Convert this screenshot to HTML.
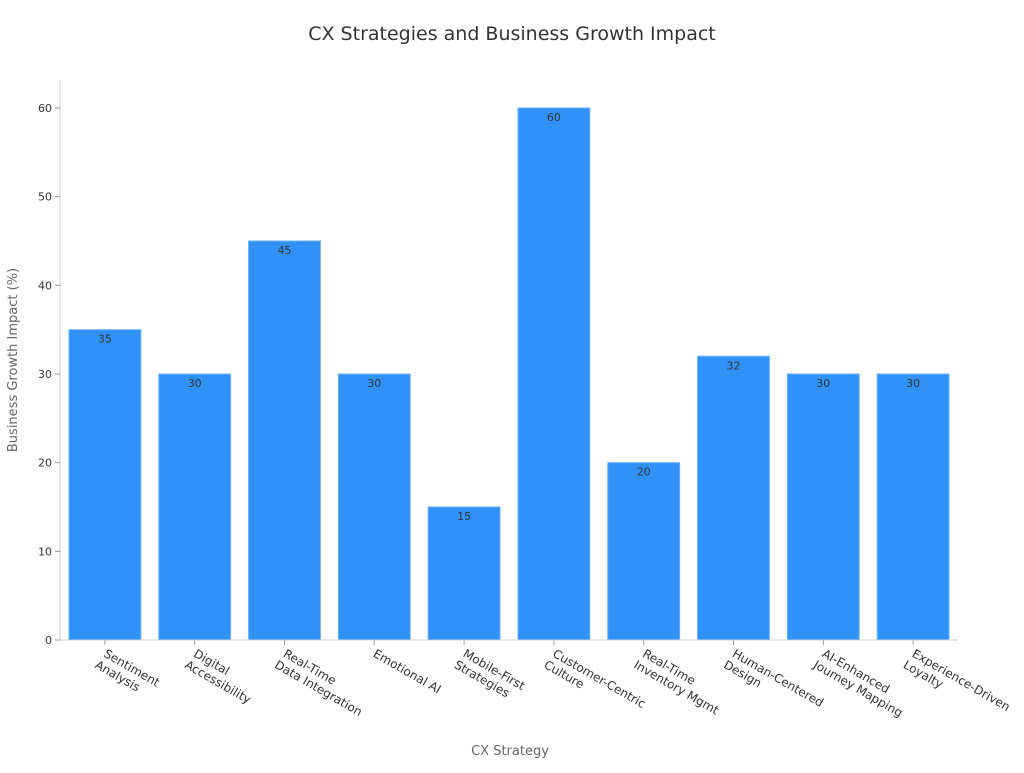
<!DOCTYPE html>
<html><head><meta charset="utf-8"><style>
body{margin:0;background:#fff}
svg{font-family:"DejaVu Sans","Liberation Sans",sans-serif}
</style></head><body>
<svg width="1024" height="768">
<text x="512" y="40" text-anchor="middle" font-size="19" fill="#333">CX Strategies and Business Growth Impact</text>
<g id="plot"></g>
<text transform="translate(17,360) rotate(-90)" text-anchor="middle" font-size="13" fill="#666">Business Growth Impact (%)</text>
<text x="510" y="755" text-anchor="middle" font-size="13" fill="#666">CX Strategy</text>
</svg>
<script>
const categories=[["Sentiment","Analysis"],["Digital","Accessibility"],["Real-Time","Data Integration"],["Emotional AI"],["Mobile-First","Strategies"],["Customer-Centric","Culture"],["Real-Time","Inventory Mgmt"],["Human-Centered","Design"],["AI-Enhanced","Journey Mapping"],["Experience-Driven","Loyalty"]];
const values=[35,30,45,30,15,60,20,32,30,30];
const yTicks=[0,10,20,30,40,50,60];
const NS="http://www.w3.org/2000/svg";
const g=document.getElementById('plot');
const x0=60,x1=958,yTop=80,yBase=640;
const y=v=>yBase-v*(532/60);
const band=(x1-x0)/categories.length;
const xc=i=>x0+band*(i+0.5);
function mk(t,a){const e=document.createElementNS(NS,t);for(const k in a)e.setAttribute(k,a[k]);g.appendChild(e);return e;}
let ax=mk('line',{x1:x0,y1:yTop,x2:x0,y2:yBase,stroke:'#ccc'});


yTicks.forEach(v=>{
 const t=mk('line',{x1:x0-5,x2:x0,y1:y(v),y2:y(v),stroke:'#999'});
 
 
 const l=mk('text',{x:x0-8,y:y(v)+4,'text-anchor':'end','font-size':11,fill:'#333'});
 l.textContent=v;
 
 
});
const bw=band*0.8;
values.forEach((v,i)=>{
 const r=mk('rect',{x:xc(i)-bw/2,y:y(v),width:bw,height:yBase-y(v),fill:'#3092f6',stroke:'#6ab0f9','stroke-width':1});
 
 
 const l=mk('text',{x:xc(i),y:y(v)+13,'text-anchor':'middle','font-size':11,fill:'#333'});
 l.textContent=v;
 
 
 const tk=mk('line',{x1:xc(i),x2:xc(i),y1:yBase,y2:yBase+5,stroke:'#999'});
 
 
 const tx=mk('text',{transform:`translate(${xc(i)-2},${yBase+16}) rotate(30)`,'font-size':12,fill:'#333'});
 
 
 categories[i].forEach((s,j)=>{const ts=document.createElementNS(NS,'tspan');ts.setAttribute('x',j?-2:0);ts.setAttribute('dy',j?14:0);ts.textContent=s;tx.appendChild(ts);});
});
let bx=mk('line',{x1:x0,y1:yBase,x2:x1,y2:yBase,stroke:'#ccc'});


</script>
</body></html>
